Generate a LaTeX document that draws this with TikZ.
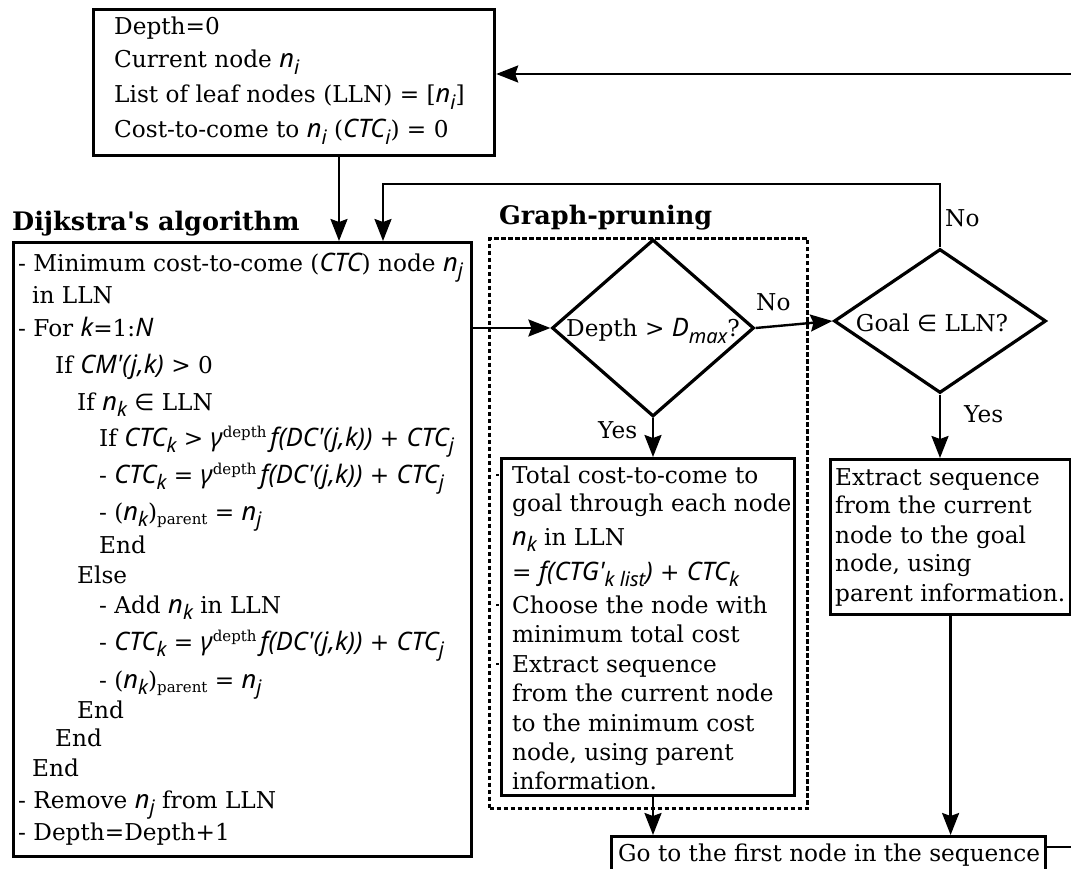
\documentclass[tikz,border=0pt]{standalone}
\usepackage{fontspec}
\setmainfont{DejaVu Serif}
\usetikzlibrary{arrows.meta,shapes.geometric}

% italic variables, their subscripts, the straight apostrophe and the set symbol
\font\mvfont="Noto Sans/I" at 25.5pt
\font\mvsub="Noto Sans/I" at 20pt
\font\aposB="DejaVu Serif/B" at 25.5pt
\font\opsym="DejaVu Sans" at 23pt
\newcommand\mv[1]{{\mvfont #1}}
\newcommand\lv[1]{\raisebox{-6.5pt}{\mvsub #1}}
\newcommand\hs[1]{\raisebox{9pt}{\fontsize{15}{15}\selectfont #1}}
\newcommand\ls[1]{\raisebox{-4pt}{\fontsize{15}{15}\selectfont #1}}
\newcommand\inn{{\opsym ∈}}

\begin{document}
\begin{tikzpicture}[x=1pt,y=-1pt,
  txt/.style={inner sep=0pt,anchor=base west,font=\fontsize{23.2}{27}\selectfont},
  ttl/.style={inner sep=0pt,anchor=base west,font=\bfseries\fontsize{25.5}{25.5}\selectfont},
  box/.style={draw,line width=3.2pt,inner sep=0pt,anchor=north west},
  dmd/.style={diamond,draw,line width=3.2pt,inner sep=0pt},
  grp/.style={draw,line width=3pt,dash pattern=on 4.5pt off 2.5pt,inner sep=0pt,anchor=north west},
  arr/.style={line width=2.4pt,-{Stealth[length=22pt,width=17pt,inset=3pt]}}]
\fill[white] (0,0) rectangle (1071,869);
\useasboundingbox (0,0) rectangle (1071,869);
\clip (0,0) rectangle (1071,869);

% titles
\node[ttl] (dtitle) at (12,231) {Dijkstra{\aposB '}s algorithm};
\node[ttl] (gtitle) at (499,225) {Graph-pruning};

% frames
\node[box,minimum width=401pt,minimum height=146pt] (top) at (92,8) {};
\node[box,minimum width=458pt,minimum height=614pt] (dij) at (12,241) {};
\node[grp,minimum width=318pt,minimum height=570pt] (gp) at (488,237) {};
\node[box,minimum width=293pt,minimum height=337pt] (tot) at (500,457) {};
\node[box,minimum width=240pt,minimum height=155pt] (ext) at (829,458) {};
\node[box,minimum width=434pt,minimum height=60pt] (go) at (610,835) {};

% decisions
\node[dmd,minimum width=202pt,minimum height=177pt] (depth) at (653,328) {};
\node[txt,anchor=center] (depthtxt) at (653,331) {Depth > \mv{D}\lv{max}?};
\node[dmd,minimum width=212pt,minimum height=144pt] (goal) at (940,321) {};
\node[txt,anchor=center] (goaltxt) at (932,323) {Goal \inn{} LLN?};

% initialisation
\foreach \x/\y/\t [count=\i] in {
  114/35/{Depth=0},
  114/68/{Current node \mv{n}\lv{i}},
  114/103/{List of leaf nodes (LLN) = [\mv{n}\lv{i}]},
  114/138/{Cost-to-come to \mv{n}\lv{i} (\mv{CTC}\lv{i}) = 0}}
  \node[txt] (tl\i) at (\x,\y) {\t};

% Dijkstra's algorithm
\foreach \x/\y/\t [count=\i] in {
  18/271/{- Minimum cost-to-come (\mv{CTC}) node \mv{n}\lv{j}},
  32/303/{in LLN},
  18/336/{- For \mv{k}=1:\mv{N}},
  55/373/{If \mv{CM'(j,k)} > 0},
  77/410/{If \mv{n}\lv{k} \inn{} LLN},
  99/446/{If \mv{CTC}\lv{k} > \mv{γ}\hs{depth}\,\mv{f(DC'(j,k))} + \mv{CTC}\lv{j}},
  99/483/{- \mv{CTC}\lv{k} = \mv{γ}\hs{depth}\,\mv{f(DC'(j,k))} + \mv{CTC}\lv{j}},
  99/520/{- (\mv{n}\lv{k})\ls{parent} = \mv{n}\lv{j}},
  99/553/{End},
  77/583/{Else},
  99/613/{- Add \mv{n}\lv{k} in LLN},
  99/650/{- \mv{CTC}\lv{k} = \mv{γ}\hs{depth}\,\mv{f(DC'(j,k))} + \mv{CTC}\lv{j}},
  99/688/{- (\mv{n}\lv{k})\ls{parent} = \mv{n}\lv{j}},
  77/718/{End},
  55/746/{End},
  32/776/{End},
  18/808/{- Remove \mv{n}\lv{j} from LLN},
  18/840/{- Depth=Depth+1}}
  \node[txt] (dl\i) at (\x,\y) {\t};

% graph pruning result
\foreach \y/\t [count=\i] in {
  483/{Total cost-to-come to},
  511/{goal through each node},
  545/{\mv{n}\lv{k} in LLN},
  580/{= \mv{f(CTG'}\lv{k list}\mv{)} + \mv{CTC}\lv{k}},
  613/{Choose the node with},
  642/{minimum total cost},
  672/{Extract sequence},
  701/{from the current node},
  731/{to the minimum cost},
  760/{node, using parent},
  789/{information.}}
  \node[txt] (pl\i) at (512,\y) {\t};
\foreach \y [count=\i] in {475,605,664}
  \draw[line width=1.6pt] (496,\y) coordinate (tk\i) -- (499,\y);

% goal found
\foreach \y/\t [count=\i] in {
  485/{Extract sequence},
  513/{from the current},
  543/{node to the goal},
  571/{node, using},
  601/{parent information.}}
  \node[txt] (el\i) at (835,\y) {\t};

\node[txt] (gotxt) at (618,861) {Go to the first node in the sequence};

% labels
\node[txt] (lno1) at (756,310) {No};
\node[txt] (lno2) at (945,226) {No};
\node[txt] (lyes1) at (598,438) {Yes};
\node[txt] (lyes2) at (964,422) {Yes};

% connectors
\coordinate (tx) at (339,0);
\coordinate (fb) at (383,184);
\coordinate (gr) at (1095,847);
\coordinate (tr) at (1095,74);
\draw[arr] (top.south -| tx) -- (tx |- dij.north);
\draw[arr] (goal.north) |- (fb) -- (fb |- dij.north);
\draw[arr] (dij.east |- depth.west) -- (depth.west);
\draw[arr] (depth.east) -- (goal.west);
\draw[arr] (depth.south) -- (depth.south |- tot.north);
\draw[arr] (goal.south) -- (goal.south |- ext.north);
\draw[arr] (tot.south -| depth.south) -- (depth.south |- go.north);
\draw[arr] (ext.south) -- (ext.south |- go.north);
\draw[arr] (go.east |- gr) -- (gr) -- (tr) -- (top.east |- tr);
\end{tikzpicture}
\end{document}
